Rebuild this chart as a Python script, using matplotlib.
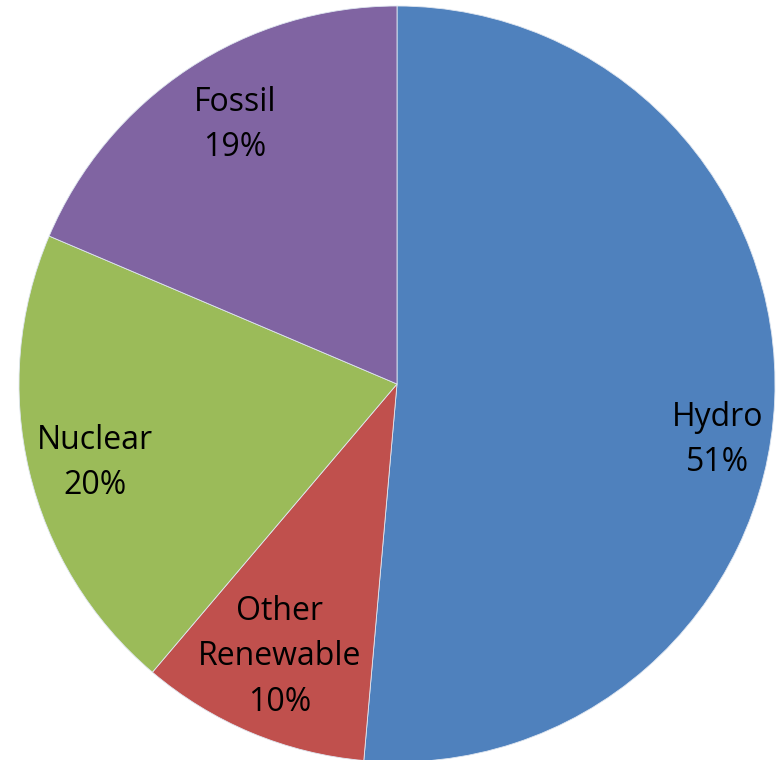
import matplotlib
matplotlib.use('Agg')
import matplotlib.pyplot as plt

# data
sources = ['Hydro', 'Other\nRenewable', 'Nuclear', 'Fossil']
shares = [51.4, 9.8, 20.2, 18.6]
colours = ['#4F81BD', '#C0504D', '#9BBB59', '#8064A2']

# label placement (axes data units, pie radius = 1)
label_pos = [(0.847, -0.148), (-0.310, -0.722), (-0.799, -0.209), (-0.429, 0.685)]

plt.rcParams['font.family'] = ['Open Sans', 'DejaVu Sans']

fig = plt.figure(figsize=(7.79, 7.60), dpi=100)
ax = fig.add_axes([19 / 779, -2 / 760, 756 / 779, 756 / 760])

wedges, _ = ax.pie(shares, colors=colours, startangle=90, counterclock=False,
                   radius=1.0, wedgeprops=dict(edgecolor='#dfe6f0', linewidth=0.6))

for name, val, (x, y) in zip(sources, shares, label_pos):
    ax.text(x, y, f'{name}\n{val:.0f}%', ha='center', va='center',
            fontsize=23, color='black', linespacing=1.5)

ax.set_xlim(-1, 1)
ax.set_ylim(-1, 1)
ax.set_aspect('equal')
ax.axis('off')

fig.savefig('out.png', dpi=100)
plt.close(fig)
